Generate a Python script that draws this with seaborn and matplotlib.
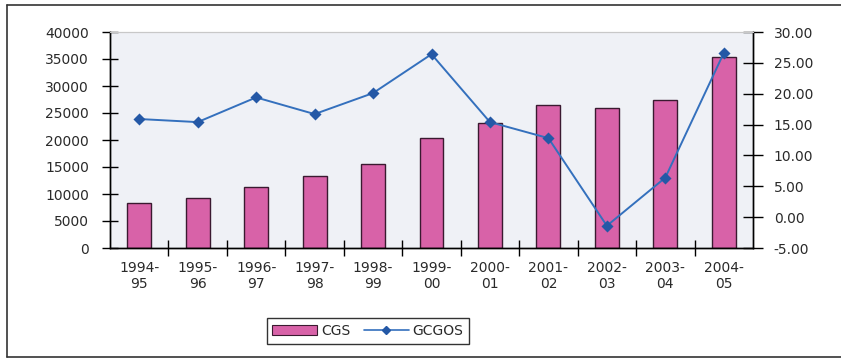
import matplotlib
matplotlib.use("Agg")
import matplotlib.pyplot as plt
from matplotlib.lines import Line2D
from matplotlib.patches import Patch
from matplotlib.ticker import FixedLocator, FuncFormatter
import seaborn as sns
import pandas as pd

# Central government spending (CGS) and its growth rate (GCGOS)
years = ["1994-\n95", "1995-\n96", "1996-\n97", "1997-\n98", "1998-\n99", "1999-\n00",
         "2000-\n01", "2001-\n02", "2002-\n03", "2003-\n04", "2004-\n05"]
cgs = [8300, 9300, 11300, 13400, 15500, 20300, 23200, 26400, 26000, 27400, 35300]
gcgos = [15.9, 15.4, 19.4, 16.7, 20.1, 26.4, 15.4, 12.8, -1.4, 6.4, 26.6]

df = pd.DataFrame({"year": years, "CGS": cgs, "GCGOS": gcgos})

sns.set_theme(style="white")
plt.rcParams["font.family"] = ["DejaVu Sans"]

bar_color = "#d862a8"
line_color = "#3470bd"
marker_color = "#2458a6"
plot_bg = "#eff1f6"
text_color = "#2a2a2a"
fs = 10

fig = plt.figure(figsize=(8.41, 3.58), dpi=100)
ax = fig.add_axes([110 / 841, 1 - 248 / 358, (753 - 110) / 841, (248 - 32) / 358])
ax.set_facecolor(plot_bg)

sns.barplot(data=df, x="year", y="CGS", order=years, color=bar_color, width=0.41,
            edgecolor="#3a1a30", linewidth=1.0, saturation=1, ax=ax)
ax.set_ylim(0, 40000)
ax.set_xlim(-0.5, len(years) - 0.5)
ax.set_yticks(range(0, 40001, 5000))
ax.set_xlabel("")
ax.set_ylabel("")

ax2 = ax.twinx()
sns.pointplot(data=df, x="year", y="GCGOS", order=years, color=line_color,
              markers="D", markersize=5.5, linewidth=1.4, ax=ax2)
for ln in ax2.lines:
    ln.set_markerfacecolor(marker_color)
    ln.set_markeredgecolor(marker_color)
ax2.set_ylim(-5, 30)
ax2.set_xlim(-0.5, len(years) - 0.5)
ax2.set_yticks(range(-5, 31, 5))
ax2.yaxis.set_major_formatter(FuncFormatter(lambda v, p: f"{v:.2f}"))
ax2.set_xlabel("")
ax2.set_ylabel("")

# Spines
for a in (ax, ax2):
    for s in ("left", "right", "bottom"):
        a.spines[s].set_color("black")
        a.spines[s].set_linewidth(1.0)
    a.spines["top"].set_color("#c8c8c8")
    a.spines["top"].set_linewidth(0.8)

# Tick marks crossing the axes
ax.tick_params(axis="y", direction="inout", length=12, width=1, colors="black",
               labelsize=fs, pad=9, left=True, right=False)
ax2.tick_params(axis="y", direction="inout", length=14, width=1, colors="black",
                labelsize=fs, pad=8, right=True, left=False)
ax.tick_params(axis="x", which="major", length=0, labelsize=fs, pad=9)
ax.xaxis.set_minor_locator(FixedLocator([i + 0.5 for i in range(len(years) - 1)]))
ax.tick_params(axis="x", which="minor", direction="inout", length=12, width=1,
               colors="black", bottom=True)
for lbl in ax.get_xticklabels():
    lbl.set_linespacing(1.25)
for lbl in ax.get_xticklabels() + ax.get_yticklabels() + ax2.get_yticklabels():
    lbl.set_color(text_color)

# Legend
handles = [Patch(facecolor=bar_color, edgecolor="#3a1a30", linewidth=0.8),
           Line2D([0], [0], color=line_color, marker="D", markersize=4.5, linewidth=1.2,
                  markerfacecolor=marker_color, markeredgecolor=marker_color)]
leg = fig.legend(handles, ["CGS", "GCGOS"], loc="center", bbox_to_anchor=(368 / 841, 1 - 331 / 358),
                 ncol=2, frameon=True, fancybox=False, edgecolor="black", fontsize=fs,
                 handlelength=3.2, columnspacing=1.0, handletextpad=0.3, borderpad=0.4)
leg.get_frame().set_linewidth(1.0)
for t in leg.get_texts():
    t.set_color(text_color)

# Outer chart border
border = dict(color="#333333", linewidth=1.2, transform=fig.transFigure)
fig.add_artist(Line2D([7 / 841, 1.0], [1 - 5 / 358, 1 - 5 / 358], **border))
fig.add_artist(Line2D([7 / 841, 7 / 841], [1 - 5 / 358, 1 - 357 / 358], **border))
fig.add_artist(Line2D([7 / 841, 1.0], [1 - 357 / 358, 1 - 357 / 358], **border))

fig.savefig("out.png", dpi=100)
